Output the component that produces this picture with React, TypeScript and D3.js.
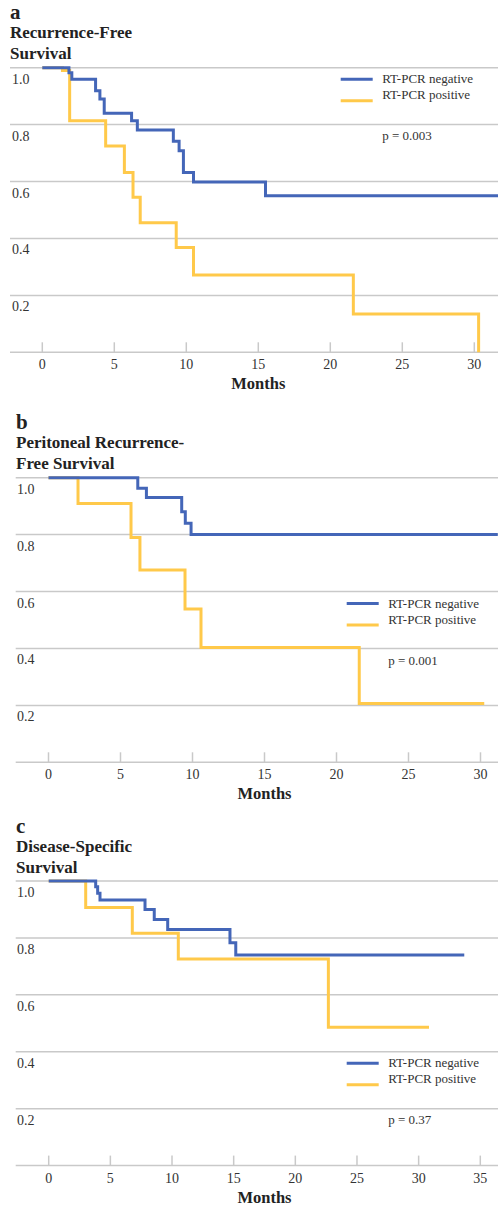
import React from "react";
import * as d3 from "d3";

// Kaplan-Meier step data (months / survival proportion)
const aNegTimes = [0, 1.85, 2.05, 3.7, 4.0, 4.3, 6.2, 6.6, 9.1, 9.5, 9.8, 10.5, 15.5, 31.7];
const aNegSurv = [1, 0.982, 0.959, 0.919, 0.89, 0.84, 0.814, 0.781, 0.742, 0.708, 0.632, 0.598, 0.55, 0.55];
const aPosTimes = [0, 1.4, 1.9, 4.4, 5.7, 6.3, 6.8, 9.3, 10.5, 21.6, 30.3];
const aPosSurv = [1, 0.99, 0.814, 0.725, 0.632, 0.545, 0.455, 0.368, 0.272, 0.135, 0];

const bNegTimes = [0, 6.2, 6.8, 9.25, 9.5, 9.9, 31.2];
const bNegSurv = [1, 0.963, 0.93, 0.88, 0.84, 0.8, 0.8];
const bPosTimes = [0, 2.05, 5.73, 6.35, 9.48, 10.59, 21.58, 30.26];
const bPosSurv = [1, 0.909, 0.79, 0.676, 0.539, 0.403, 0.207, 0.207];

const cNegTimes = [0, 3.81, 3.97, 4.16, 7.81, 8.56, 9.65, 14.7, 15.17, 33.7];
const cNegSurv = [1, 0.98, 0.957, 0.933, 0.9, 0.865, 0.83, 0.783, 0.74, 0.74];
const cPosTimes = [0, 3.0, 6.78, 10.51, 22.68, 30.84];
const cPosSurv = [1, 0.907, 0.816, 0.726, 0.486, 0.486];

const yTicks = [0.2, 0.4, 0.6, 0.8, 1.0];
const xTicksA = [0, 5, 10, 15, 20, 25, 30];
const xTicksC = [0, 5, 10, 15, 20, 25, 30, 35];

const seriesNames = ["RT-PCR negative", "RT-PCR positive"];
const BLUE = "#4466b8";
const YELLOW = "#ffc94a";
const GRID = "#c9c9c9";
const FONT = "'Liberation Serif', 'Times New Roman', serif";
const W = 498;

const panels = [
  {
    letter: "a", title: ["Recurrence-Free", "Survival"], top: 67.7, left: 10, x0: 42.3, xEnd: 474.3,
    ticks: xTicksA, neg: [aNegTimes, aNegSurv], pos: [aPosTimes, aPosSurv],
    legendY: 79.3, legendX: 340.7, pY: 140, pText: "p = 0.003", labelX: 12, titleX: 10,
  },
  {
    letter: "b", title: ["Peritoneal Recurrence-", "Free Survival"], top: 477.7, left: 15.7, x0: 48.5, xEnd: 480.5,
    ticks: xTicksA, neg: [bNegTimes, bNegSurv], pos: [bPosTimes, bPosSurv],
    legendY: 603.5, legendX: 346.7, pY: 665, pText: "p = 0.001", labelX: 17, titleX: 16,
  },
  {
    letter: "c", title: ["Disease-Specific", "Survival"], top: 881, left: 15.7, x0: 48.7, xEnd: 480.3,
    ticks: xTicksC, neg: [cNegTimes, cNegSurv], pos: [cPosTimes, cPosSurv],
    legendY: 1063.3, legendX: 346.7, pY: 1124, pText: "p = 0.37", labelX: 17, titleX: 16,
  },
];

const H = 284.6;

function Panel({ p }: { p: any }) {
  const x = d3.scaleLinear().domain([0, p.ticks[p.ticks.length - 1]]).range([p.x0, p.xEnd]);
  const y = d3.scaleLinear().domain([0, 1]).range([p.top + H, p.top]);
  const line = d3
    .line<[number, number]>()
    .x((d) => x(d[0]))
    .y((d) => y(d[1]))
    .curve(d3.curveStepAfter);
  const toPts = (s: number[][]) => s[0].map((t, i) => [t, s[1][i]] as [number, number]);
  const axisY = y(0);
  const midX = (x(p.ticks[0]) + x(p.ticks[p.ticks.length - 1])) / 2;

  return (
    <g>
      <text x={p.titleX} y={p.top - 48.5} fontSize={21} fontWeight="bold" fill="#222">{p.letter}</text>
      <text x={p.titleX} y={p.top - 29.5} fontSize={17} fontWeight="bold" fill="#222">{p.title[0]}</text>
      <text x={p.titleX} y={p.top - 8.5} fontSize={17} fontWeight="bold" fill="#222">{p.title[1]}</text>

      {yTicks.map((v) => (
        <g key={v}>
          <line x1={p.left} x2={W} y1={y(v)} y2={y(v)} stroke={GRID} strokeWidth={1.5} />
          <text x={p.labelX} y={y(v) + 16} fontSize={14} fill="#333">{v.toFixed(1)}</text>
        </g>
      ))}

      <line x1={p.left} x2={W} y1={axisY} y2={axisY} stroke={GRID} strokeWidth={1.5} />
      {p.ticks.map((t: number) => (
        <g key={t}>
          <line x1={x(t)} x2={x(t)} y1={axisY - 10} y2={axisY} stroke={GRID} strokeWidth={1.5} />
          <text x={x(t)} y={axisY + 17} fontSize={14} fill="#333" textAnchor="middle">{t}</text>
        </g>
      ))}
      <text x={midX} y={axisY + 37} fontSize={16.5} fontWeight="bold" fill="#222" textAnchor="middle">Months</text>

      <path d={line(toPts(p.pos)) || ""} fill="none" stroke={YELLOW} strokeWidth={3} />
      <path d={line(toPts(p.neg)) || ""} fill="none" stroke={BLUE} strokeWidth={3} />

      <line x1={p.legendX} x2={p.legendX + 32} y1={p.legendY} y2={p.legendY} stroke={BLUE} strokeWidth={3} />
      <text x={p.legendX + 41.5} y={p.legendY + 4} fontSize={13} fill="#333">{seriesNames[0]}</text>
      <line x1={p.legendX} x2={p.legendX + 32} y1={p.legendY + 21.5} y2={p.legendY + 21.5} stroke={YELLOW} strokeWidth={3} />
      <text x={p.legendX + 41.5} y={p.legendY + 20} fontSize={13} fill="#333">{seriesNames[1]}</text>
      <text x={p.legendX + 41.5} y={p.pY} fontSize={13} fill="#333">{p.pText}</text>
    </g>
  );
}

export default function App() {
  return (
    <svg
      width={W}
      height={1207}
      style={{ position: "absolute", left: 0, top: 0, background: "#fff", fontFamily: FONT }}
    >
      {panels.map((p) => (
        <Panel key={p.letter} p={p} />
      ))}
    </svg>
  );
}
